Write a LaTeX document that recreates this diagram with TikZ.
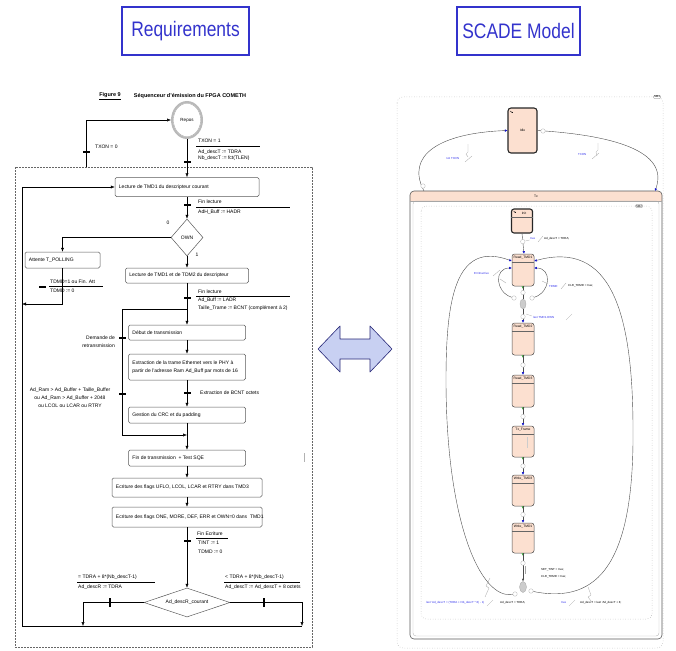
\documentclass[tikz,border=0pt]{standalone}
\usepackage{fontspec}
\setmainfont{Liberation Sans}
\usetikzlibrary{arrows.meta,shapes.geometric}
\definecolor{ttlblue}{RGB}{51,51,204}
\definecolor{peach}{RGB}{252,224,208}
\definecolor{arrfill}{RGB}{200,208,242}
\definecolor{arrdraw}{RGB}{40,40,120}
\definecolor{lblblue}{RGB}{50,50,235}
\definecolor{grn}{RGB}{30,170,30}
\definecolor{tipblue}{RGB}{20,20,200}
\newcommand\fa{\fontsize{5}{8.5}\selectfont}
\newcommand\fs{\fontsize{2.9}{3.6}\selectfont}
\newcommand\fst{\fontsize{3.3}{4}\selectfont}
\newcommand\flowbox[6]{%
  \node[fbox,minimum width=#4pt,minimum height=#5pt] (#1) at (#2,#3) {};
  \node[btext] (#1-t) at ([xshift=4pt]#1.west) {#6};}
\newcommand\htick[2]{\fill ({#1-3.5},{#2-1.4}) rectangle ({#1+3.5},{#2+1.4});}
\newcommand\vtick[2]{\fill ({#1-1.4},{#2-4.5}) rectangle ({#1+1.4},{#2+4.5});}
\newcommand\scst[6]{%
  \node[st,minimum width=#4pt,minimum height=#5pt] (#1) at (#2,#3) {};
  \draw[black!60,line width=0.3pt] ([yshift=-8pt]#1.north west) -- ([yshift=-8pt]#1.north east);
  \node[font=\fst,inner sep=0pt] (#1-t) at ([yshift=-4pt]#1.north) {#6};}
\newcommand\grnmark[1]{%
  \fill[grn] ([xshift=-1.4pt]#1.south) -- ([xshift=1.4pt]#1.south) -- ([yshift=-2.6pt]#1.south) -- cycle;}
\begin{document}
\begin{tikzpicture}[x=1pt,y=-1pt,
  cline/.style={draw=black,line width=0.5pt},
  arr/.style={cline,-{Latex[length=4pt,width=3.2pt]}},
  fbox/.style={draw=black!65,rounded corners=1.5pt,line width=0.5pt,inner sep=0pt},
  btext/.style={font=\fa,inner sep=0pt,anchor=west,align=left},
  lbl/.style={font=\fa,inner sep=0pt,anchor=west},
  dmd/.style={diamond,draw=black!65,line width=0.5pt,inner sep=0pt,font=\fa},
  ttl/.style={draw=ttlblue,line width=1.6pt,text=ttlblue,font=\fontsize{21}{24}\selectfont,inner sep=0pt},
  st/.style={draw=black!70,fill=peach,rounded corners=2.5pt,line width=0.5pt,inner sep=0pt},
  trn/.style={draw=black!70,line width=0.4pt,-{Latex[length=2.6pt,width=2.6pt,color=tipblue]}},
  trp/.style={draw=black!70,line width=0.4pt},
  tcirc/.style={circle,draw=gray!60,fill=white,minimum size=4.5pt,inner sep=0pt,line width=0.3pt},
  jct/.style={ellipse,draw=gray!70,fill=gray!40,minimum width=6pt,minimum height=10pt,inner sep=0pt,line width=0.3pt},
  sb/.style={font=\fs,text=lblblue,inner sep=0pt,anchor=west},
  sk/.style={font=\fs,inner sep=0pt,anchor=west},
  sl/.style={draw=gray!70,line width=0.3pt},
  tag/.style={draw=gray!60,rounded corners=1pt,fill=white,font=\fs,inner sep=0.6pt}
]
\useasboundingbox (0,0) rectangle (676,650);

% ---------- titles ----------
\node[ttl,minimum width=127pt,minimum height=48pt] (req) at (185.5,31) {\scalebox{0.83}[1]{Requirements}};
\node[ttl,minimum width=123pt,minimum height=48pt] (scm) at (518.5,31) {\scalebox{0.83}[1]{SCADE Model}};

% ---------- double arrow ----------
\draw[arrdraw,fill=arrfill,line width=0.6pt,line join=round]
  (318,349) -- (340,326) -- (340,339) -- (370,339) -- (370,326) -- (392,349)
  -- (370,372) -- (370,359) -- (340,359) -- (340,372) -- cycle;

% ---------- left flowchart ----------
\node[font=\fontsize{5.5}{6}\selectfont\bfseries,inner sep=0pt] (fig) at (110,96) {\underline{Figure 9}};
\node[font=\fontsize{5.5}{6}\selectfont\bfseries,inner sep=0pt] (seq) at (190,96) {Séquenceur d'émission du FPGA COMETH};

\draw[gray!80!black,dash pattern=on 2pt off 1pt,line width=0.4pt] (15,167) rectangle (312,647);

\node[ellipse,draw=gray!55,line width=2pt,minimum width=30pt,minimum height=36pt,inner sep=0pt,font=\fontsize{4.5}{5}\selectfont] (repos) at (187,120) {Repos};
\draw[gray!80,line width=0.3pt] (187,120) ellipse (13.6pt and 16.6pt);

\flowbox{L1}{187}{187}{144}{19}{Lecture de TMD1 du descripteur courant}
\flowbox{att}{62.5}{260}{75}{16}{Attente T\_POLLING}
\flowbox{L2}{187}{275.5}{123}{15}{Lecture de TMD1 et de TDM2 du descripteur}
\flowbox{deb}{187}{332.5}{117}{15}{Début de transmission}
\flowbox{ext}{187}{367}{117}{26}{Extraction de la trame Ethernet vers le PHY à\\partir de l'adresse Ram Ad\_Buff par mots de 16}
\flowbox{crc}{187}{415}{117}{16}{Gestion du CRC et du padding}
\flowbox{fin}{187}{458}{117}{16}{Fin de transmission \ + Test SQE}
\flowbox{e3}{187}{487.5}{150}{19}{Ecriture des flags UFLO, LCOL, LCAR et RTRY dans TMD3}
\flowbox{e1}{187}{517}{150}{20}{Ecriture des flags ONE, MORE, DEF, ERR et OWN=0 dans \ TMD1}

\node[dmd,minimum width=32pt,minimum height=37pt] (own) at (187,237.5) {OWN};
\node[dmd,aspect=3,minimum width=86pt,minimum height=29pt] (ad) at (187,602.5) {Ad\_descR\_courant};

\coordinate (t0) at (86,167);
\coordinate (c1) at (22,304);
\coordinate (j1) at (187,309);
\coordinate (j2) at (187,435);
\coordinate (rl) at (122,309);
\coordinate (rb) at (122,435);
\coordinate (bl) at (83,626);
\coordinate (br) at (302,626);
\coordinate (bll) at (22,626);
\coordinate (tl) at (22,187);

\draw[arr] (t0) |- (repos.west);
\draw[arr] (repos.south) -- (L1.north);
\draw[arr] (L1.south) -- (own.north);
\draw[arr] (own.west) -| (att.north);
\draw[arr] (own.south) -- (L2.north);
\draw[arr] (att.south) |- (c1);
\draw[cline] (L2.south) -- (j1);
\draw[arr] (j1) -- (deb.north);
\draw[arr] (j1) -- (rl) -- (rb) -- (j2);
\draw[arr] (deb.south) -- (ext.north);
\draw[arr] (ext.south) -- (crc.north);
\draw[cline] (crc.south) -- (j2);
\draw[arr] (j2) -- (fin.north);
\draw[arr] (fin.south) -- (e3.north);
\draw[arr] (e3.south) -- (e1.north);
\draw[arr] (e1.south) -- (ad.north);
\draw[arr] (ad.west) -| (bl);
\draw[arr] (ad.east) -| (br);
\draw[cline] (bll) -- (br);
\draw[arr] (bll) -- (tl) -- (L1.west);

\htick{86}{152}
\htick{187}{162}
\htick{187}{205}
\htick{42}{287}
\htick{187}{298}
\htick{122}{338}
\htick{122}{394}
\htick{187}{393}
\htick{187}{541}
\vtick{110}{602}
\vtick{264}{602}

\node[lbl] (lx0) at (95,147) {TXON = 0};
\node[lbl] (lx1) at (198,141) {TXON = 1};
\draw[cline] (196,146) -- (260,146);
\node[lbl] (lx2) at (198,152) {Ad\_descT := TDRA};
\node[lbl] (lx3) at (198,158) {Nb\_descT := fct(TLEN)};

\node[lbl] (lf1) at (198,202) {Fin lecture};
\draw[cline] (196,207) -- (290,207);
\node[lbl] (lf2) at (198,212) {AdH\_Buff := HADR};

\node[font=\fa,inner sep=0pt] (l0) at (168,223) {0};
\node[font=\fa,inner sep=0pt] (l1) at (197,255) {1};

\node[lbl] (lt1) at (50,282) {TDMD=1 ou Fin. Att};
\draw[cline] (49,286) -- (103,286);
\node[lbl] (lt2) at (50,291) {TDMD := 0};

\node[lbl] (lg1) at (198,292) {Fin lecture};
\draw[cline] (196,296) -- (290,296);
\node[lbl] (lg2) at (198,300) {Ad\_Buff := LADR};
\node[lbl] (lg3) at (198,308) {Taille\_Trame := BCNT (complément à 2)};

\node[font=\fa,inner sep=0pt,anchor=east] (dm1) at (115,338) {Demande de};
\node[font=\fa,inner sep=0pt,anchor=east] (dm2) at (115,346) {retransmission};

\node[font=\fontsize{5}{8}\selectfont,align=center,inner sep=0pt] (cond) at (70,398)
  {Ad\_Ram > Ad\_Buffer + Taille\_Buffer\\ou Ad\_Ram > Ad\_Buffer + 2048\\ou LCOL ou LCAR ou RTRY};
\node[lbl] (lb) at (200,393) {Extraction de BCNT octets};

\draw[gray!60,line width=0.6pt] (304,453) -- (304,462);

\node[lbl] (le1) at (197,534) {Fin Ecriture};
\draw[cline] (196,538) -- (228,538);
\node[lbl] (le2) at (198,543) {TINT := 1};
\node[lbl] (le3) at (198,552) {TDMD := 0};

\node[lbl] (la1) at (78,577) {= TDRA + 8*(Nb\_descT-1)};
\draw[cline] (77,582) -- (155,582);
\node[lbl] (la2) at (78,587) {Ad\_descR := TDRA};
\node[lbl] (lr1) at (225,577) {< TDRA + 8*(Nb\_descT-1)};
\draw[cline] (224,582) -- (300,582);
\node[lbl] (lr2) at (225,587) {Ad\_descT := Ad\_descT + 8 octets};

% ---------- SCADE model ----------
\draw[gray!70,dotted,line width=0.5pt,rounded corners=6pt] (397,97) rectangle (663,648);
\node[tag] (sm1) at (657,97) {SM1};

\begin{scope}
  \clip[rounded corners=4pt] (410,191) rectangle (662,639);
  \fill[peach] (410,191) rectangle (662,201);
\end{scope}
\node[draw=gray!70!black,line width=0.6pt,rounded corners=4pt,minimum width=252pt,minimum height=448pt,inner sep=0pt] (tx) at (536,415) {};
\draw[gray!55,line width=0.4pt,rounded corners=3pt] (413,201) rectangle (659,636);
\draw[gray!70,line width=0.4pt] (410,201) -- (662,201);
\node[font=\fst,inner sep=0pt] (txl) at (536,196) {Tx};

\draw[gray!70,dotted,line width=0.5pt,rounded corners=5pt] (421,206) rectangle (652,619);
\node[tag] (sm2) at (639,206) {SM2};

\node[st,line width=1.1pt,draw=black!85,minimum width=29pt,minimum height=45pt,rounded corners=3pt] (idle) at (522.5,130.5) {};
\node[font=\fst,inner sep=0pt] (idlet) at (522.5,130) {Idle};
\draw[-{Latex[length=1.3pt,width=1.3pt]},line width=0.35pt] (510,111) -- (513,113);

\node[st,line width=1.1pt,draw=black!85,minimum width=21pt,minimum height=24pt] (init) at (522,221) {};
\draw[black!60,line width=0.3pt] ([yshift=-9pt]init.north west) -- ([yshift=-9pt]init.north east);
\node[font=\fst,inner sep=0pt] (initt) at (524,213.5) {Init};
\draw[-{Latex[length=1.3pt,width=1.3pt]},line width=0.35pt] (513.5,211) -- (516,213);

\scst{r1}{523}{270}{22}{32}{Read\_TMD1}
\scst{r2}{523}{339}{22}{32}{Read\_TMD2}
\scst{r3}{523}{391}{22}{32}{Read\_TMD3}
\scst{tf}{523}{441.5}{22}{31}{Tx\_Frame}
\scst{w3}{523}{490.5}{22}{31}{Write\_TMD3}
\scst{w1}{523}{538}{22}{30}{Write\_TMD1}
\draw[gray!40,line width=0.3pt] (527,437) -- (527,448);

% top-level transitions
\coordinate (ntx) at (424,191);
\coordinate (txe) at (655,191);
\draw[trn] (ntx) .. controls (405,155) and (440,133) .. (idle.west);
\node[tcirc] (c0) at (423,186) {};
\draw[trn] (idle.east) .. controls (610,135) and (670,150) .. (txe);
\node[tcirc] (c00) at (543,131) {};
\node[sb] (lnt) at (446,159) {not TXON};
\node[sb] (ltx) at (578,155) {TXON};
\draw[sl] (468,144) -- (468,152) -- (466,154) -- (468,157);
\draw[sl] (465,162) -- (472,156);
\draw[sl] (598,143) -- (598,150) -- (596,152) -- (597,156);
\draw[sl] (592,159) -- (599,153);

% junctions
\node[jct] (ja) at (523,304) {};
\node[tcirc] (jal) at (514,298) {};
\node[tcirc] (jar) at (532,298) {};
\node[jct,minimum width=7pt,minimum height=11pt] (jb) at (523,587) {};
\node[tcirc] (jbl) at (515,594) {};
\node[tcirc] (jbr) at (531,591) {};
\coordinate (bigL) at (446,380);
\coordinate (bigR) at (633,430);

% state transitions
\draw[trn] (init.south) -- node[tcirc,pos=0.4] (ci) {} ([xshift=1pt]r1.north);
\grnmark{r1}
\draw[trp] (r1.south) -- node[tcirc,pos=0.5] (cj) {} (ja.north);
\draw[trn] (ja.south) -- node[tcirc,pos=0.55] (cr2) {} (r2.north);
\grnmark{r2}
\draw[trn] (r2.south) -- node[tcirc,pos=0.5] (cr3) {} (r3.north);
\grnmark{r3}
\draw[trn] (r3.south) -- node[tcirc,pos=0.5] (ctf) {} (tf.north);
\grnmark{tf}
\draw[trn] (tf.south) -- node[tcirc,pos=0.5] (cw3) {} (w3.north);
\grnmark{w3}
\draw[trn] (w3.south) -- node[tcirc,pos=0.5] (cw1) {} (w1.north);
\grnmark{w1}
\draw[trp,-{Latex[length=2.6pt,width=2.6pt]}] (w1.south) -- node[tcirc,pos=0.35] (cjb) {} (jb.north);

\draw[trn] (jal) .. controls (495,292) and (494,268) .. ([yshift=2pt]r1.west);
\draw[trn] (jar) .. controls (551,292) and (552,268) .. ([yshift=2pt]r1.east);
\draw[trn] (jbl) .. controls (480,600) and (446,520) .. (bigL)
  .. controls (446,300) and (455,240) .. ([yshift=9pt]r1.west);
\draw[trn] (jbr) .. controls (600,605) and (634,560) .. (bigR)
  .. controls (633,310) and (610,240) .. ([yshift=9pt]r1.east);

% SCADE labels
\node[sb] (lt) at (530,239) {true};
\draw[sl] (538,242) -- (543,236);
\node[sk] (lad) at (544,239) {Ad\_descT = TDRA;};
\draw[sl] (525.5,241) -- (529.5,240);

\node[sb] (lerr) at (474,273) {Err/Inactive};
\draw[sl] (493,276) -- (500,270);
\draw[sl] (506,283) -- (500,279);

\node[sb] (ltd) at (549,286) {TDMD};
\draw[sl] (561,289) -- (566,283);
\node[sk] (lclr) at (568,286) {CLR\_TDMD = true;};
\draw[sl] (542,281) -- (548,284);

\node[sb] (lown) at (533,317) {last TMD1.OWN};
\draw[sl] (566,320) -- (572,314);
\draw[sl] (526,314) -- (532,316);

\node[sk,align=left,font=\fontsize{2.9}{7}\selectfont] (lset) at (541,573.5) {SET\_TINT = true;\\CLR\_TDMD = true;};
\draw[sl] (525,566) -- (525,574);

\node[sb] (llast) at (426,603) {last 'Ad\_descT = (TDRA + Nb\_descT * 8) - 1)};
\draw[sl] (487,606) -- (493,600);
\node[sk] (lad2) at (500,603) {Ad\_descT = TDRA;};
\node[sb] (ltr2) at (561,603) {true};
\draw[sl] (569,606) -- (575,600);
\node[sk] (lad3) at (580,603) {Ad\_descT = last 'Ad\_descT + 8;};
\draw[sl] (490,578) -- (486,586) -- (489,588) -- (485,597);
\draw[sl] (588,587) -- (591,595) -- (588,597) -- (591,601);
\end{tikzpicture}
\end{document}
